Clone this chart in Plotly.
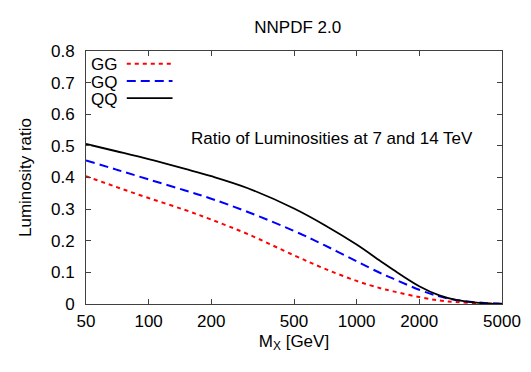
import plotly.graph_objects as go

# invariant mass in GeV
mass = [50, 70, 100, 150, 200, 300, 500, 700, 1000, 1300, 1500, 2000, 2500, 3000, 4000, 5000]

# ratio of luminosities 7 TeV / 14 TeV
lumi_gg = [0.404, 0.370, 0.335, 0.297, 0.267, 0.221, 0.154, 0.112, 0.073, 0.050, 0.040, 0.022, 0.011, 0.006, 0.002, 0.001]
lumi_gq = [0.454, 0.425, 0.394, 0.359, 0.333, 0.291, 0.231, 0.186, 0.135, 0.098, 0.080, 0.045, 0.024, 0.013, 0.004, 0.001]
lumi_qq = [0.506, 0.483, 0.458, 0.427, 0.404, 0.366, 0.302, 0.250, 0.188, 0.136, 0.108, 0.056, 0.027, 0.013, 0.003, 0.0]

series_names = ['GG', 'GQ', 'QQ']
x_ticks = [50, 100, 200, 500, 1000, 2000, 5000]

styles = {
    'GG': dict(color='#ff0000', width=2, dash='4px,4px'),
    'GQ': dict(color='#0000ff', width=2, dash='9px,5px'),
    'QQ': dict(color='#000000', width=1.8, dash='solid'),
}
data = {'GG': lumi_gg, 'GQ': lumi_gq, 'QQ': lumi_qq}

fig = go.Figure()
for name in series_names:
    fig.add_trace(go.Scatter(x=mass, y=data[name], mode='lines', name=name,
                             line=dict(shape='spline', smoothing=1.0, **styles[name])))

# gnuplot-style key: label on the left, sample line on the right
key_y = [0.946, 0.877, 0.810]
for name, ky in zip(series_names, key_y):
    fig.add_annotation(x=0.008, y=ky, xref='paper', yref='paper', text=name,
                       showarrow=False, xanchor='left', yanchor='middle',
                       font=dict(size=17, color='black'))
    st = styles[name]
    fig.add_shape(type='line', xref='paper', yref='paper',
                  x0=0.098, x1=0.208, y0=ky + 0.004, y1=ky + 0.004,
                  line=dict(color=st['color'], width=st['width'], dash=st['dash']))

fig.add_annotation(x=0.591, y=0.70, xref='paper', yref='paper',
                   text='Ratio of Luminosities at 7 and 14 TeV', showarrow=False,
                   font=dict(size=17, color='black'))

axis_style = dict(showline=True, linecolor='#404040', linewidth=1, mirror='ticks',
                  ticks='inside', ticklen=5, tickcolor='#404040', showgrid=False,
                  zeroline=False, automargin=False, tickfont=dict(size=17, color='black'))

fig.update_xaxes(type='log', range=[1.69897, 3.69897], tickvals=x_ticks,
                 ticktext=[str(v) for v in x_ticks], ticklabelstandoff=2,
                 title=dict(text='M<sub>X</sub> [GeV]', font=dict(size=17, color='black'), standoff=4),
                 **axis_style)
fig.update_yaxes(range=[0, 0.8], dtick=0.1, ticklabelstandoff=7,
                 title=dict(text='Luminosity ratio', font=dict(size=17, color='black'), standoff=15),
                 **axis_style)

# page body adds an 8px margin, so the figure is a little smaller than the window
fig.update_layout(
    width=523, height=364,
    margin=dict(l=78, r=29, t=43, b=68),
    title=dict(text='NNPDF 2.0', x=0.554, xanchor='center', y=0.949, yanchor='middle',
               font=dict(size=17, color='black')),
    font=dict(family='Liberation Sans, Arial, sans-serif', size=17, color='black'),
    showlegend=False,
    plot_bgcolor='white', paper_bgcolor='white',
)

fig.write_html("out.html")
